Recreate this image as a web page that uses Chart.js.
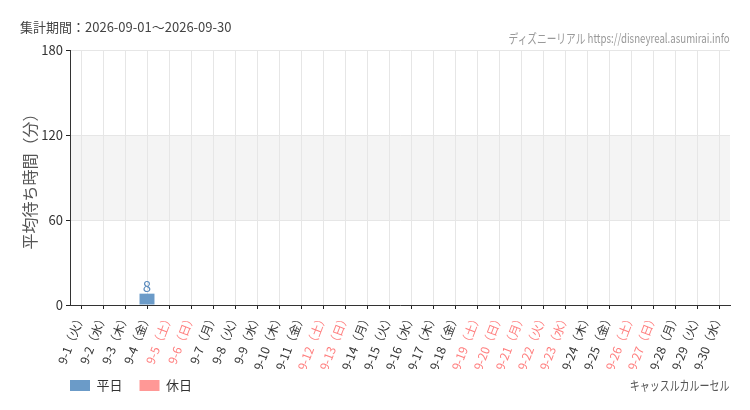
<!DOCTYPE html>
<html lang="ja">
<head>
<meta charset="utf-8">
<script src="https://cdn.jsdelivr.net/npm/chart.js@4/dist/chart.umd.min.js"></script>
<style>
  html, body { margin: 0; padding: 0; background: #fff; }
  #wrap { position: relative; width: 750px; height: 410px; font-family: 'Noto Sans CJK JP', 'Noto Sans', sans-serif; }
  #chart { position: absolute; left: 0; top: 0; }
  .txt { position: absolute; white-space: nowrap; }
  #period { left: 20px; top: 17px; font-size: 13px; line-height: 20px; color: #444; }
  #credit { right: 20px; top: 30px; font-size: 13px; line-height: 16px; color: #999; transform: scaleX(0.745); transform-origin: right center; }
  #attraction { right: 20px; top: 377px; font-size: 13px; line-height: 16px; color: #555; transform: scaleX(0.77); transform-origin: right center; }
</style>
</head>
<body>
<div id="wrap">
  <canvas id="chart" width="750" height="410"></canvas>
  <div class="txt" id="period">集計期間：2026-09-01～2026-09-30</div>
  <div class="txt" id="credit">ディズニーリアル https://disneyreal.asumirai.info</div>
  <div class="txt" id="attraction">キャッスルカルーセル</div>
</div>
<script>
// dates and day of week for September 2026
const dates = ['9-1', '9-2', '9-3', '9-4', '9-5', '9-6', '9-7', '9-8', '9-9', '9-10',
  '9-11', '9-12', '9-13', '9-14', '9-15', '9-16', '9-17', '9-18', '9-19', '9-20',
  '9-21', '9-22', '9-23', '9-24', '9-25', '9-26', '9-27', '9-28', '9-29', '9-30'];
const dayNames = ['火', '水', '木', '金', '土', '日', '月', '火', '水', '木',
  '金', '土', '日', '月', '火', '水', '木', '金', '土', '日',
  '月', '火', '水', '木', '金', '土', '日', '月', '火', '水'];
const holidays = ['9-5', '9-6', '9-12', '9-13', '9-19', '9-20', '9-21', '9-22', '9-23', '9-26', '9-27'];

// average wait (minutes)
const weekdayWait = [null, null, null, 8, null, null, null, null, null, null,
  null, null, null, null, null, null, null, null, null, null,
  null, null, null, null, null, null, null, null, null, null];
const holidayWait = [null, null, null, null, null, null, null, null, null, null,
  null, null, null, null, null, null, null, null, null, null,
  null, null, null, null, null, null, null, null, null, null];

const yTicks = [0, 60, 120, 180];

const labels = dates.map((d, i) => d + '（' + dayNames[i] + '）');
const isHoliday = dates.map(d => holidays.includes(d));

const BLUE = '#6b9bc8';
const PINK = '#ff9896';
const FONT = '"Noto Sans CJK JP", sans-serif';

// light band between 60 and 120
const bandPlugin = {
    id: 'band',
    beforeDraw(chart) {
        const { ctx, chartArea, scales } = chart;
        const top = scales.y.getPixelForValue(120);
        const bottom = scales.y.getPixelForValue(60);
        ctx.save();
        ctx.fillStyle = '#f4f4f4';
        ctx.fillRect(chartArea.left, top, chartArea.right - chartArea.left, bottom - top);
        ctx.restore();
    }
};

// value labels above bars
const valuePlugin = {
    id: 'values',
    afterDatasetsDraw(chart) {
        const ctx = chart.ctx;
        ctx.save();
        ctx.font = '15px ' + FONT;
        ctx.textAlign = 'center';
        ctx.textBaseline = 'bottom';
        chart.data.datasets.forEach((ds, di) => {
            const meta = chart.getDatasetMeta(di);
            meta.data.forEach((bar, i) => {
                const v = ds.data[i];
                if (v === null || v === undefined) return;
                ctx.fillStyle = di === 0 ? '#5b8bbd' : '#f08080';
                ctx.fillText(String(v), bar.x, bar.y);
            });
        });
        ctx.restore();
    }
};

// line the legend up with the plot's left edge and pull it up a little
const legendShift = {
    id: 'legendShift',
    afterLayout(chart) {
        const lg = chart.legend;
        const dx = chart.chartArea.left - lg.left - lg.options.labels.padding;
        lg.left += dx;
        lg.right += dx;
        lg.top -= 7;
        lg.bottom -= 7;
    }
};

const ctx = document.getElementById('chart').getContext('2d');
const waitChart = new Chart(ctx, {
    type: 'bar',
    data: {
        labels: labels,
        datasets: [{
            label: '平日',
            data: weekdayWait,
            backgroundColor: BLUE,
            borderWidth: 0,
            categoryPercentage: 0.8,
            barPercentage: 0.85
        }, {
            label: '休日',
            data: holidayWait,
            backgroundColor: PINK,
            borderWidth: 0,
            categoryPercentage: 0.8,
            barPercentage: 0.85
        }]
    },
    options: {
        responsive: false,
        animation: false,
        layout: {
            padding: { left: 20, right: 20, top: 50, bottom: 1 }
        },
        plugins: {
            legend: {
                position: 'bottom',
                align: 'start',
                labels: {
                    boxWidth: 20,
                    boxHeight: 11,
                    padding: 17,
                    color: '#333',
                    font: { family: FONT, size: 13 }
                }
            },
            tooltip: { enabled: false }
        },
        scales: {
            x: {
                stacked: true,
                grid: {
                    offset: false,
                    color: '#e6e6e6',
                    tickColor: '#222',
                    tickLength: 4
                },
                border: { color: '#333', width: 1 },
                ticks: {
                    minRotation: 69,
                    maxRotation: 69,
                    autoSkip: false,
                    padding: 2,
                    font: { family: FONT, size: 12 },
                    color: c => isHoliday[c.index] ? '#ff7f7f' : '#333'
                },
                afterFit(scale) { scale.height = 64; }
            },
            y: {
                min: yTicks[0],
                max: yTicks[yTicks.length - 1],
                afterBuildTicks(scale) { scale.ticks = yTicks.map(v => ({ value: v })); },
                grid: {
                    color: '#e6e6e6',
                    tickColor: '#222',
                    tickLength: 4
                },
                border: { color: '#333', width: 1 },
                ticks: {
                    padding: 3,
                    color: '#333',
                    font: { family: FONT, size: 13 }
                },
                title: {
                    display: true,
                    text: '平均待ち時間（分）',
                    color: '#555',
                    padding: 0,
                    font: { family: FONT, size: 16 }
                },
                afterFit(scale) { scale.width = 50; }
            }
        }
    },
    plugins: [bandPlugin, valuePlugin, legendShift]
});
</script>
</body>
</html>
